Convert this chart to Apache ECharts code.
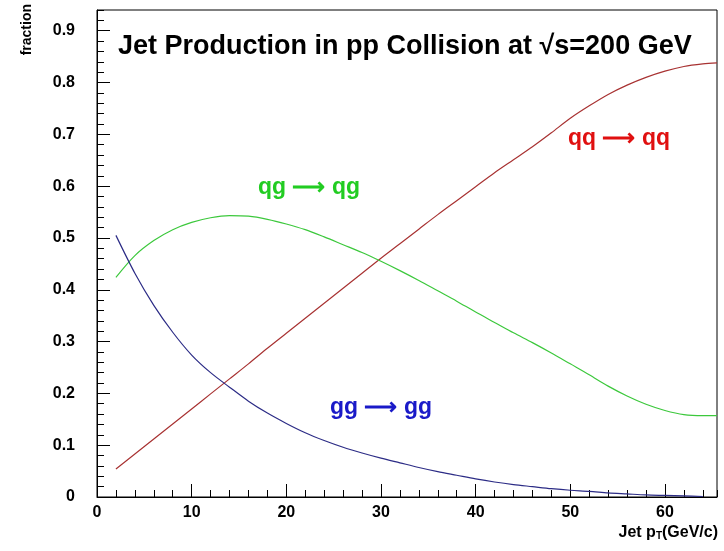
<!DOCTYPE html>
<html>
<head>
<meta charset="utf-8">
<script src="https://cdn.jsdelivr.net/npm/echarts@6/dist/echarts.min.js"></script>
<style>
  html, body { margin: 0; padding: 0; background: #fff; }
  #chart { width: 724px; height: 551px; }
</style>
</head>
<body>
<div id="chart"></div>
<script>
// Jet transverse momentum (GeV/c)
const jetPt = [2, 4, 6, 8, 10, 12, 14, 16, 18, 20, 22, 24, 26, 28, 30, 32,
  34, 36, 38, 40, 42, 44, 46, 48, 50, 52, 54, 56, 58, 60, 62, 64, 65.5];

// Subprocess fractions
const fracQqQq = [0.054, 0.083, 0.112, 0.141, 0.170, 0.199, 0.228, 0.257, 0.287,
  0.316, 0.345, 0.374, 0.403, 0.432, 0.461, 0.489, 0.517, 0.545, 0.572, 0.599,
  0.626, 0.651, 0.676, 0.703, 0.731, 0.755, 0.777, 0.795, 0.810, 0.822, 0.831,
  0.836, 0.838];
const fracQgQg = [0.424, 0.466, 0.495, 0.516, 0.530, 0.539, 0.543, 0.542, 0.536,
  0.527, 0.516, 0.502, 0.487, 0.472, 0.455, 0.437, 0.418, 0.398, 0.378, 0.357,
  0.337, 0.317, 0.298, 0.278, 0.257, 0.236, 0.214, 0.195, 0.179, 0.167, 0.159,
  0.157, 0.157];
const fracGgGg = [0.505, 0.432, 0.370, 0.318, 0.274, 0.240, 0.212, 0.185, 0.162,
  0.142, 0.124, 0.109, 0.096, 0.085, 0.075, 0.066, 0.057, 0.049, 0.042, 0.035,
  0.029, 0.024, 0.020, 0.016, 0.013, 0.011, 0.008, 0.006, 0.004, 0.003, 0.002,
  0.001];

const xMin = 0, xMax = 65.5, yMin = 0, yMax = 0.94;

const pairs = (xs, ys) => ys.map((v, i) => [xs[i], v]);
const font = '"Liberation Sans", Arial, sans-serif';

const chart = echarts.init(document.getElementById('chart'), null, { renderer: 'canvas' });

const majorX = {
  type: 'value', min: xMin, max: xMax, interval: 10, position: 'bottom',
  axisLine: { show: true, lineStyle: { color: '#000', width: 1 } },
  axisTick: { show: true, inside: true, length: 13, lineStyle: { color: '#000' } },
  axisLabel: { show: true, margin: 8, showMaxLabel: false, color: '#000',
    fontFamily: font, fontWeight: 'bold', fontSize: 16 },
  splitLine: { show: false }
};
const minorX = {
  type: 'value', min: xMin, max: xMax, interval: 2, position: 'bottom',
  axisLine: { show: false },
  axisTick: { show: true, inside: true, length: 7, lineStyle: { color: '#000' } },
  axisLabel: { show: false }, splitLine: { show: false }
};
const majorY = {
  type: 'value', min: yMin, max: yMax, interval: 0.1, position: 'left',
  axisLine: { show: true, lineStyle: { color: '#000', width: 1 } },
  axisTick: { show: true, inside: true, length: 13, lineStyle: { color: '#000' } },
  axisLabel: { show: true, margin: 22, showMaxLabel: false, color: '#000',
    fontFamily: font, fontWeight: 'bold', fontSize: 16,
    formatter: v => (v === 0 ? '0' : v.toFixed(1)) },
  splitLine: { show: false }
};
const minorY = {
  type: 'value', min: yMin, max: yMax, interval: 0.02, position: 'left',
  axisLine: { show: false },
  axisTick: { show: true, inside: true, length: 7, lineStyle: { color: '#000' } },
  axisLabel: { show: false }, splitLine: { show: false }
};

function curve(name, data, color) {
  return {
    name, type: 'line', data, xAxisIndex: 0, yAxisIndex: 0,
    showSymbol: false, smooth: 0.3, animation: false,
    lineStyle: { color, width: 1.2 }
  };
}

const labelStyle = (text, color, x, y) => ({
  type: 'text', left: x, top: y,
  style: { text, fill: color, font: 'bold 23px ' + font }
});

chart.setOption({
  animation: false,
  backgroundColor: '#fff',
  grid: { left: 97, right: 7, top: 10, bottom: 54, show: true,
    borderColor: '#000', borderWidth: 1, backgroundColor: 'transparent' },
  xAxis: [majorX, minorX],
  yAxis: [majorY, minorY],
  series: [
    curve('qq→qq', pairs(jetPt, fracQqQq), '#a83232'),
    curve('qg→qg', pairs(jetPt, fracQgQg), '#3cc83c'),
    curve('gg→gg', pairs(jetPt, fracGgGg), '#2c2c86')
  ],
  graphic: [
    { type: 'text', left: 118, top: 33,
      style: { text: 'Jet Production in pp Collision at \u221As=200 GeV',
        fill: '#000', font: 'bold 27px ' + font } },
    labelStyle('qq \u27F6 qq', '#e01010', 568, 127),
    labelStyle('qg \u27F6 qg', '#22cc22', 258, 176),
    labelStyle('gg \u27F6 gg', '#1a1ac8', 330, 396),
    { type: 'text', left: 20, top: 4, rotation: Math.PI / 2, originX: 0, originY: 0,
      style: { text: 'fraction', fill: '#000', font: 'bold 14px ' + font } },
    { type: 'text', right: 6, top: 525,
      style: { text: '{a|Jet p}{s|T}{a|(GeV/c)}', fill: '#000',
        rich: {
          a: { fontFamily: font, fontWeight: 'bold', fontSize: 16, fill: '#000' },
          s: { fontFamily: font, fontWeight: 'bold', fontSize: 10, fill: '#000', verticalAlign: 'bottom', padding: [6, 0, 0, 0] }
        } } }
  ]
});
</script>
</body>
</html>
